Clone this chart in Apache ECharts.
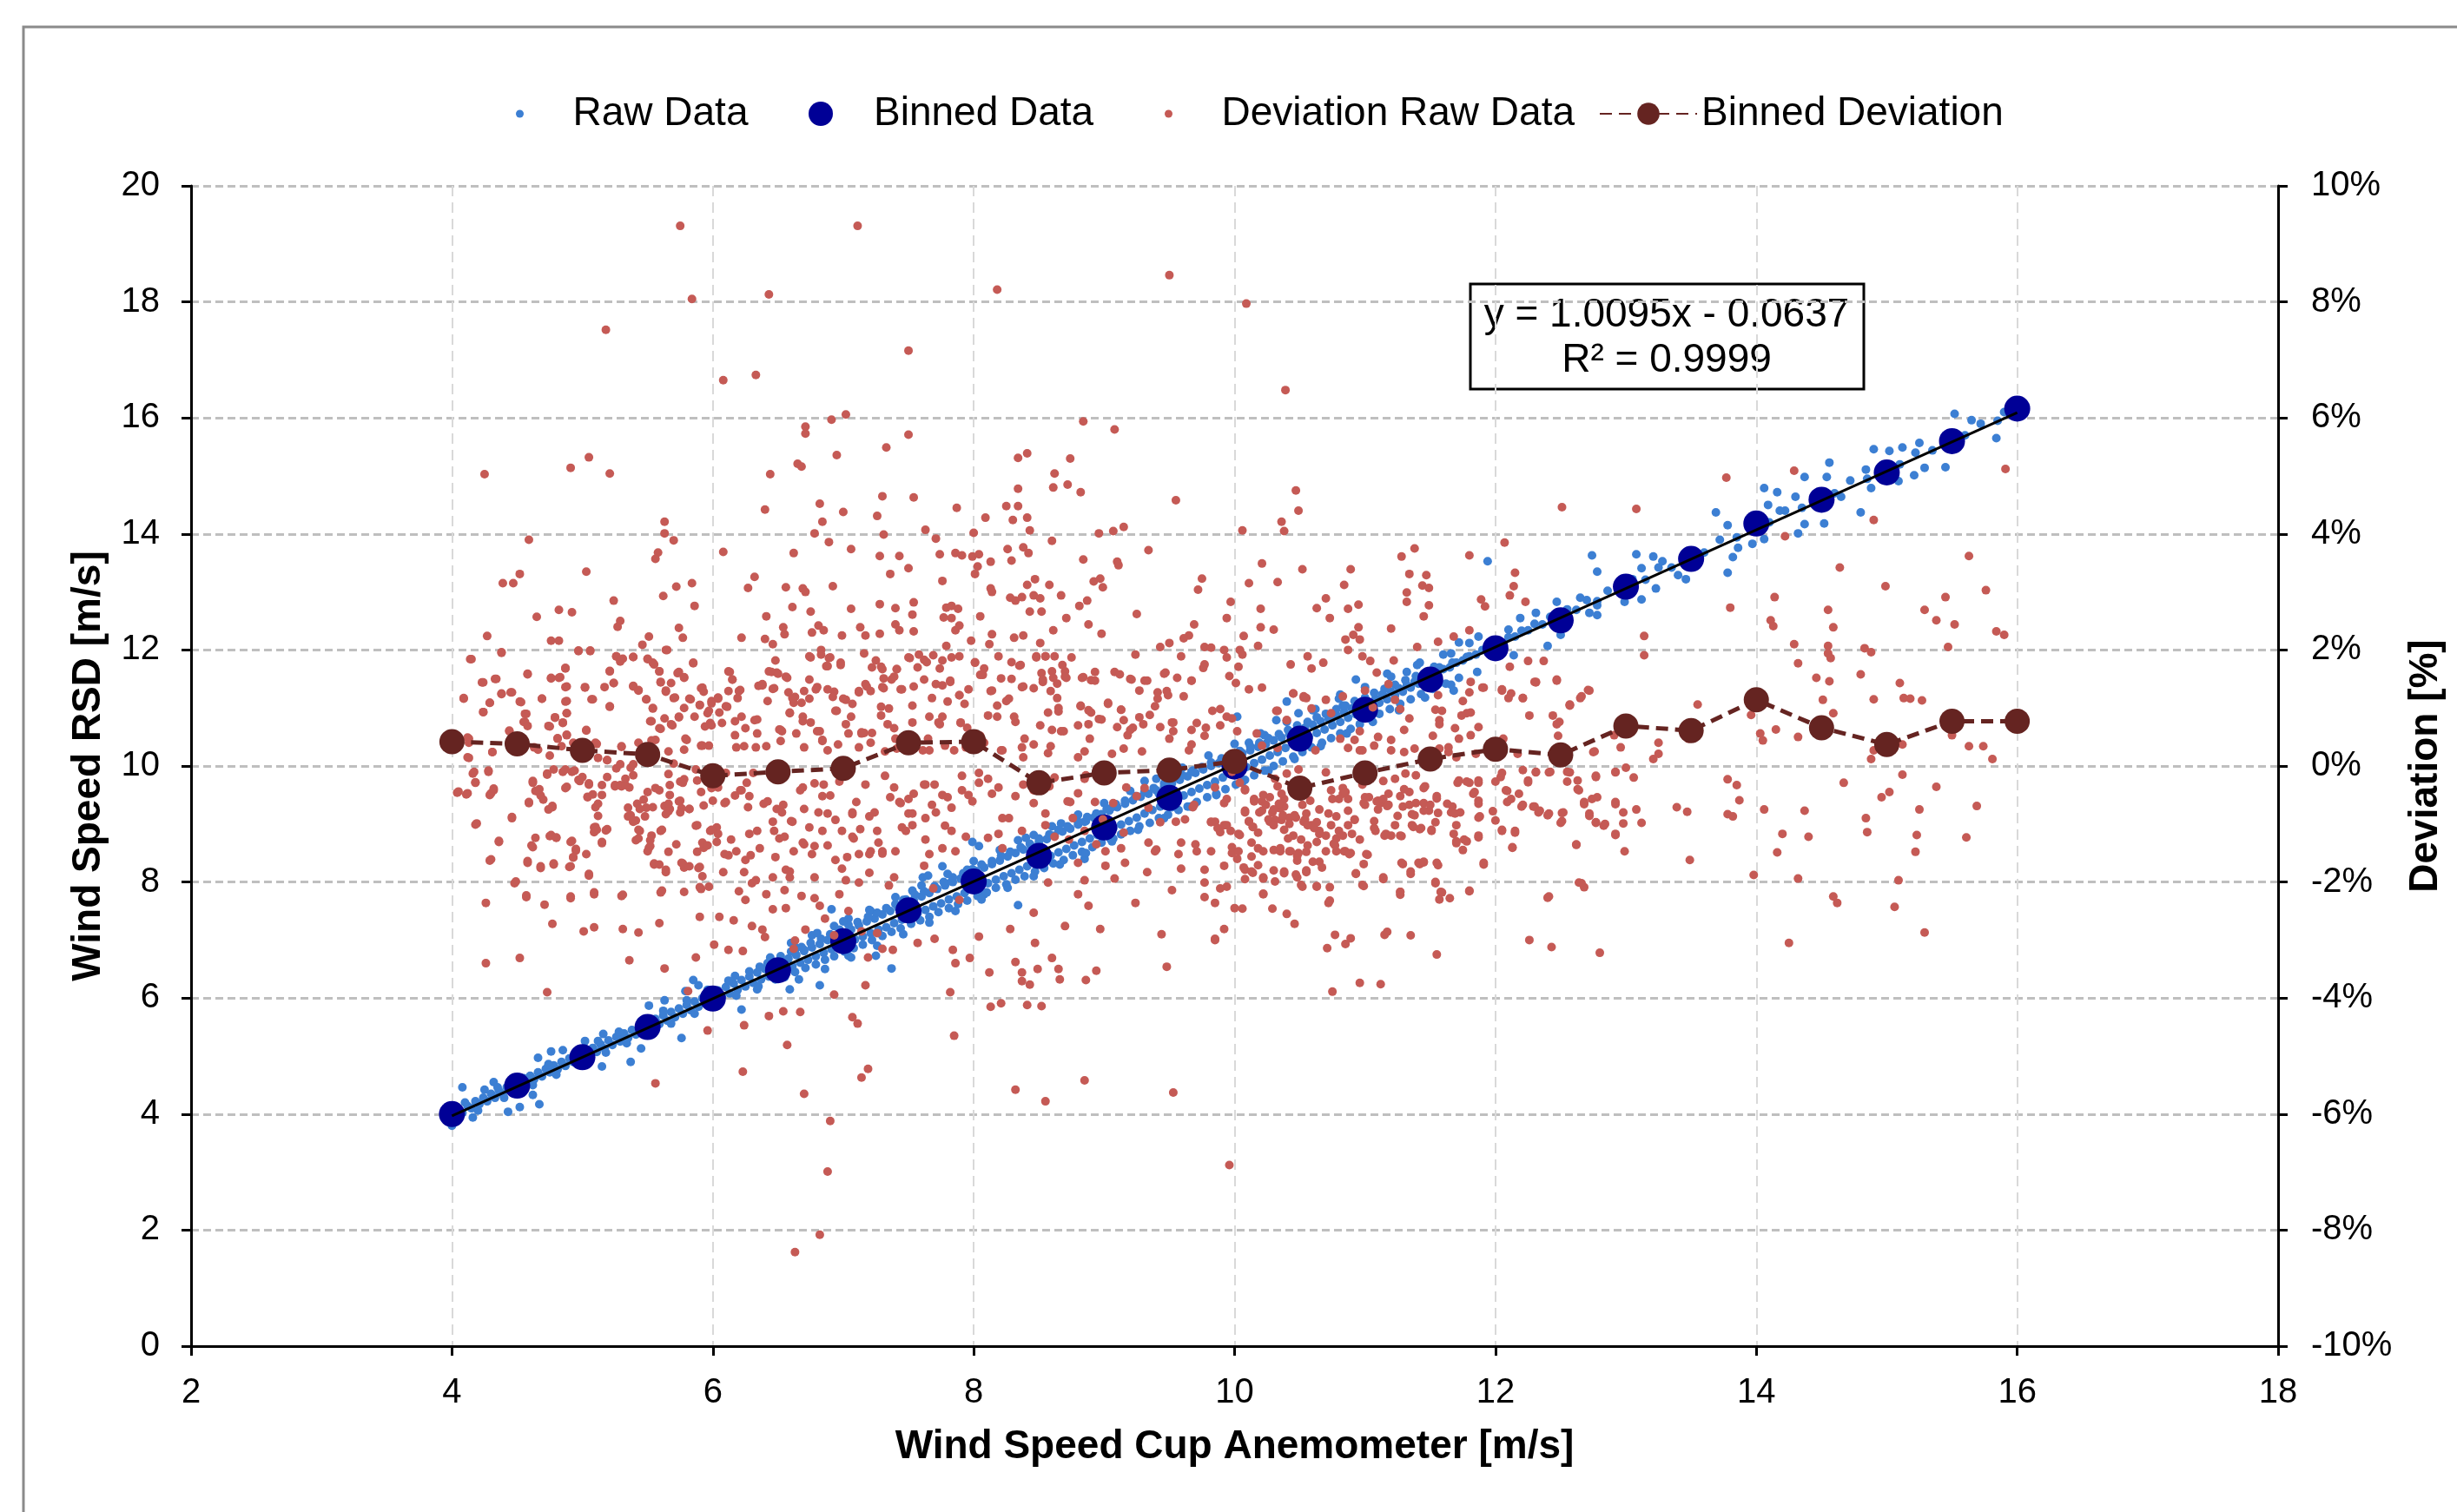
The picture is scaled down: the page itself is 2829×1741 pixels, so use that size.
<!DOCTYPE html>
<html>
  <head>
    <meta charset="utf-8">
    <title>Wind Speed RSD vs Cup Anemometer</title>
    <script src="https://cdn.jsdelivr.net/npm/echarts@6/dist/echarts.min.js"></script>
    <style>
    html, body { margin: 0; padding: 0; background: #fff; }
    #chart { width: 2829px; height: 1741px; }
    </style>
  </head>
  <body>
    <div id="chart"></div>
    <script type="text/javascript">
      var seriesNames = ['Raw Data', 'Binned Data', 'Deviation Raw Data', 'Binned Deviation'];

      // bin centres, cup anemometer [m/s]
      var binCup = [4, 4.5, 5, 5.5, 6, 6.5, 7, 7.5, 8, 8.5, 9, 9.5, 10, 10.5, 11, 11.5, 12, 12.5, 13, 13.5, 14, 14.5, 15, 15.5, 16];
      // binned RSD wind speed [m/s]
      var binRsd = [4.00, 4.49, 4.98, 5.50, 5.99, 6.48, 6.98, 7.51, 8.01, 8.45, 8.94, 9.45, 9.99, 10.47, 10.97, 11.49, 12.03, 12.51, 13.09, 13.57, 14.18, 14.59, 15.06, 15.60, 16.16];
      // binned deviation [%]
      var binDev = [0.42, 0.38, 0.27, 0.20, -0.17, -0.10, -0.04, 0.40, 0.42, -0.29, -0.12, -0.07, 0.08, -0.38, -0.12, 0.12, 0.29, 0.19, 0.69, 0.61, 1.14, 0.66, 0.37, 0.77, 0.77];

      // linear fit y = 1.0095x - 0.0637, drawn over the bin range
      var trendLine = [[4, 3.97], [16, 16.09]];

      // raw 10-min data: [cup, rsd]
      var rawData = [
        [4.02,3.98],[4.05,4.08],[4.08,4.02],[4.12,4.14],[4.15,4.10],[4.18,4.22],[4.21,4.17],[4.24,4.28],[4.27,4.22],[4.30,4.35],
        [4.33,4.28],[4.36,4.40],[4.39,4.34],[4.42,4.46],[4.45,4.41],[4.48,4.52],[4.51,4.47],[4.54,4.58],[4.57,4.54],[4.60,4.66],
        [4.63,4.60],[4.66,4.72],[4.69,4.65],[4.72,4.78],[4.75,4.72],[4.78,4.84],[4.81,4.77],[4.84,4.90],[4.87,4.83],[4.90,4.96],
        [4.93,4.90],[4.96,5.02],[4.99,4.95],[5.02,5.08],[5.05,5.01],[5.08,5.14],[5.11,5.07],[5.14,5.20],[5.17,5.13],[5.20,5.27],
        [5.23,5.19],[5.26,5.33],[5.29,5.25],[5.32,5.39],[5.35,5.31],[5.38,5.45],[5.41,5.37],[5.44,5.51],[5.47,5.43],[5.50,5.58],
        [5.53,5.49],[5.56,5.64],[5.59,5.55],[5.62,5.70],[5.65,5.61],[5.68,5.76],[5.71,5.67],[5.74,5.82],[5.77,5.73],[5.80,5.88],
        [5.83,5.79],[5.86,5.94],[5.89,5.85],[5.92,6.00],[5.95,5.90],[5.98,6.06],[6.01,5.96],[6.04,6.13],[6.07,6.02],[6.10,6.19],
        [6.13,6.08],[6.16,6.25],[6.19,6.14],[6.22,6.31],[6.25,6.20],[6.28,6.37],[6.31,6.26],[6.34,6.44],[6.37,6.32],[6.40,6.50],
        [6.43,6.37],[6.46,6.56],[6.49,6.43],[6.52,6.63],[6.55,6.49],[6.58,6.68],[6.61,6.55],[6.64,6.74],[6.67,6.61],[6.70,6.81],
        [6.73,6.66],[6.76,6.87],[6.79,6.72],[6.82,6.93],[6.85,6.78],[6.88,7.00],[6.91,6.84],[6.94,7.06],[6.97,6.89],[7.00,7.12],
        [7.03,6.95],[7.06,7.18],[7.09,7.01],[7.12,7.25],[7.15,7.06],[7.18,7.32],[7.21,7.12],[7.24,7.37],[7.27,7.18],[7.30,7.44],
        [7.33,7.22],[7.36,7.50],[7.39,7.29],[7.42,7.56],[7.45,7.35],[7.48,7.62],[7.51,7.40],[7.54,7.69],[7.57,7.46],[7.60,7.75],
        [7.63,7.52],[7.66,7.81],[7.69,7.58],[7.72,7.88],[7.75,7.63],[7.78,7.94],[7.81,7.70],[7.84,8.00],[7.87,7.75],[7.90,8.06],
        [7.93,7.81],[7.96,8.13],[7.99,7.87],[8.02,8.19],[8.05,7.92],[8.08,8.25],[8.11,7.98],[8.14,8.31],[8.17,8.04],[8.20,8.37],
        [8.23,8.10],[8.26,8.44],[8.29,8.15],[8.32,8.50],[8.35,8.21],[8.38,8.56],[8.41,8.27],[8.44,8.62],[8.47,8.33],[8.50,8.69],
        [8.53,8.39],[8.56,8.74],[8.59,8.45],[8.62,8.80],[8.65,8.51],[8.68,8.87],[8.71,8.57],[8.74,8.92],[8.77,8.63],[8.80,8.99],
        [8.83,8.69],[8.86,9.05],[8.89,8.75],[8.92,9.11],[8.95,8.81],[8.98,9.17],[9.01,8.87],[9.04,9.23],[9.07,8.93],[9.10,9.29],
        [9.13,8.99],[9.16,9.35],[9.19,9.05],[9.22,9.41],[9.25,9.11],[9.28,9.47],[9.31,9.18],[9.34,9.52],[9.37,9.24],[9.40,9.58],
        [9.43,9.30],[9.46,9.64],[9.49,9.36],[9.52,9.70],[9.55,9.42],[9.58,9.76],[9.61,9.49],[9.64,9.82],[9.67,9.55],[9.70,9.88],
        [9.73,9.61],[9.76,9.94],[9.79,9.67],[9.82,10.00],[9.85,9.73],[9.88,10.05],[9.91,9.80],[9.94,10.11],[9.97,9.86],[10.00,10.16],
        [10.03,9.92],[10.06,10.22],[10.09,9.98],[10.12,10.27],[10.15,10.05],[10.18,10.33],[10.21,10.11],[10.24,10.38],[10.27,10.18],[10.30,10.44],
        [10.33,10.24],[10.36,10.49],[10.39,10.31],[10.42,10.55],[10.45,10.37],[10.48,10.60],[10.51,10.44],[10.54,10.66],[10.57,10.50],[10.60,10.71],
        [10.63,10.57],[10.66,10.77],[10.69,10.63],[10.72,10.82],[10.75,10.70],[10.78,10.88],[10.81,10.76],[10.84,10.93],[10.87,10.83],[10.90,10.99],
        [10.93,10.89],[10.96,11.05],[10.99,10.96],[11.02,11.11],[11.05,11.02],[11.08,11.16],[11.11,11.09],[11.14,11.22],[11.17,11.15],[11.20,11.28],
        [11.23,11.22],[11.26,11.34],[11.29,11.28],[11.32,11.39],[11.35,11.35],[11.38,11.45],[11.41,11.42],[11.44,11.51],[11.47,11.48],[11.50,11.57],
        [11.55,11.58],[11.60,11.67],[11.65,11.70],[11.70,11.78],[11.75,11.82],[11.80,11.89],[11.85,11.92],[11.90,12.00],[11.95,12.03],[12.00,12.10],
        [12.05,12.12],[12.10,12.22],[12.15,12.23],[12.20,12.33],[12.25,12.34],[12.30,12.45],[12.36,12.44],[12.42,12.57],[12.48,12.55],[12.55,12.70],
        [12.62,12.69],[12.70,12.86],[12.78,12.84],[12.86,13.02],[12.95,13.04],[13.05,13.22],[13.15,13.21],[13.25,13.42],[13.35,13.42],[13.48,13.64],
        [13.60,13.68],[13.72,13.90],[13.85,13.94],[13.95,14.12],[14.10,14.20],[14.22,14.40],[14.35,14.45],[14.45,14.64],[14.60,14.70],[14.72,14.92],
        [14.85,14.95],[14.95,15.12],[15.10,15.20],[15.22,15.40],[15.35,15.44],[15.45,15.64],[15.60,15.70],[15.72,15.90],[15.85,15.95],[15.95,16.12],
        [16.02,16.14],
        [4.08,4.46],[4.00,3.80],[4.16,3.94],[4.25,4.42],[4.32,4.55],[4.43,4.04],[4.52,4.12],[4.67,4.17],[4.62,4.33],[4.66,4.97],
        [4.76,5.08],[4.85,5.10],[5.02,5.26],[5.15,4.82],[5.16,5.38],[5.30,5.38],[5.37,4.90],[5.45,5.13],[5.51,5.87],[5.63,5.96],
        [5.76,5.31],[5.79,6.12],[5.85,6.31],[5.89,6.22],[6.17,6.38],[6.22,5.80],[6.34,6.15],[6.36,6.54],[6.44,6.70],[6.59,6.15],
        [6.64,6.86],[6.70,6.83],[6.82,6.22],[6.76,7.08],[6.91,7.53],[6.93,7.24],[7.04,7.37],[7.04,6.73],[7.21,7.50],[7.25,6.73],
        [7.37,6.51],[7.46,7.69],[7.53,7.85],[7.61,8.08],[7.65,8.11],[7.76,8.27],[7.83,8.01],[7.95,8.21],[7.99,8.69],[8.04,8.62],
        [8.34,8.72],[8.08,7.79],[8.34,7.60],[8.46,8.81],[8.67,9.01],[8.85,9.04],[9.06,9.29],[8.85,8.40],[9.31,9.74],[9.42,9.52],
        [9.67,9.90],[9.52,9.29],[9.07,8.75],
        [10.02,10.85],[10.11,10.40],[10.23,10.53],[10.32,10.79],[10.40,11.11],[10.49,10.91],[10.62,10.98],[10.74,10.79],[10.83,11.04],[10.81,11.23],
        [10.93,11.49],[11.13,11.23],[11.17,11.59],[11.32,11.62],[11.42,11.78],[11.57,11.43],[11.68,11.30],[11.53,11.71],[11.66,11.94],[11.72,12.13],
        [11.87,12.23],[11.94,13.53],[12.14,11.91],[12.10,12.35],[12.19,12.55],[12.31,12.64],[12.40,12.07],[12.50,12.26],[12.47,12.83],[12.72,12.64],
        [12.78,12.60],[12.65,12.90],[12.78,12.77],[12.99,12.83],[13.12,12.87],[13.23,13.06],[13.12,13.41],[12.78,13.35],[12.74,13.63],[13.54,13.54],
        [13.46,13.22],[13.40,13.29],[13.28,13.53],[13.08,13.65],[13.21,13.61],[13.78,13.33],[13.82,13.60],[13.86,13.76],[13.78,14.15],[13.69,14.37],
        [13.97,13.83],[14.32,14.01],[14.06,13.91],[14.18,14.40],[14.09,14.50],[14.30,14.64],[14.06,14.79],[14.16,14.72],[14.52,14.18],[14.37,14.17],
        [14.37,14.98],[14.65,14.64],[14.54,14.98],[14.56,15.23],[14.80,14.37],[14.88,14.79],[14.84,15.11],[15.09,14.91],[15.45,15.15],[15.21,15.01],
        [15.29,15.14],[15.25,15.57],[15.12,15.49],[15.02,15.43],[14.90,15.46],[15.90,16.10],[15.84,15.65],[15.65,15.96],[15.52,16.07]
      ];

      // raw data, outer edges of the dense band: [cup, rsd]
      var rawBand = [
        [4.10,4.20],[4.20,4.06],[4.35,4.46],[4.40,4.28],[4.55,4.62],[4.62,4.50],[4.74,4.86],[4.80,4.68],[4.95,5.07],[5.00,4.88],
        [5.12,5.26],[5.18,5.06],[5.28,5.42],[5.34,5.22],[5.45,5.60],[5.52,5.40],[5.62,5.78],[5.68,5.56],[5.80,5.96],[5.86,5.73],
        [5.96,6.14],[6.03,5.88],[6.12,6.30],[6.18,6.04],[6.28,6.46],[6.35,6.20],[6.42,6.60],[6.48,6.32],
        [6.52,6.72],[6.55,6.36],[6.60,6.80],[6.63,6.45],[6.68,6.88],[6.71,6.52],[6.75,6.95],[6.79,6.58],[6.83,7.02],[6.86,6.66],
        [6.90,7.10],[6.93,6.72],[6.97,7.18],[7.01,6.80],[7.04,7.26],[7.08,6.86],[7.11,7.31],[7.15,6.92],[7.19,7.40],[7.22,7.00],
        [7.26,7.47],[7.30,7.07],[7.33,7.55],[7.37,7.14],[7.40,7.62],[7.44,7.20],[7.48,7.70],[7.52,7.28],[7.55,7.78],[7.59,7.34],
        [7.62,7.84],[7.66,7.40],[7.70,7.93],[7.73,7.48],[7.77,8.00],[7.81,7.55],[7.84,8.08],[7.88,7.62],[7.92,8.15],[7.95,7.68],
        [7.99,8.22],[8.03,7.76],[8.06,8.30],[8.10,7.82],[8.14,8.36],[8.17,7.90],[8.21,8.45],[8.25,7.96],[8.28,8.52],[8.32,8.04],
        [8.36,8.60],[8.39,8.10],[8.43,8.66],[8.47,8.18],[8.50,8.75],[8.54,8.24],[8.58,8.82],[8.61,8.32],[8.65,8.90],[8.69,8.38],
        [8.72,8.96],[8.76,8.46],[8.80,9.04],[8.83,8.52],[8.87,9.12],[8.91,8.60],[8.94,9.18],[8.98,8.68],[9.02,9.26],[9.05,8.74],
        [9.09,9.34],[9.13,8.82],[9.16,9.40],[9.20,8.88],[9.24,9.48],[9.27,8.96],[9.31,9.56],[9.35,9.02],[9.38,9.62],[9.42,9.10],
        [9.46,9.70],[9.49,9.16],[9.53,9.78],[9.57,9.24],[9.60,9.84],[9.64,9.30],[9.68,9.92],[9.71,9.38],[9.75,9.98],[9.79,9.46],
        [9.82,10.06],[9.86,9.52],[9.90,10.13],[9.93,9.60],[9.97,10.20],[10.01,9.68],[10.04,10.26],[10.08,9.76],[10.12,10.34],[10.15,9.84],
        [10.19,10.40],[10.23,9.92],[10.26,10.48],[10.30,10.00],[10.34,10.55],[10.37,10.08],[10.41,10.62],[10.45,10.16],[10.48,10.70],[10.52,10.24],
        [10.56,10.76],[10.59,10.32],[10.63,10.84],[10.67,10.40],[10.70,10.90],[10.74,10.48],[10.78,10.98],[10.81,10.56],[10.85,11.04],[10.89,10.64],
        [10.92,11.12],[10.96,10.72],[11.00,11.18],[11.03,10.82],[11.07,11.26],[11.11,10.90],[11.15,11.33],[11.19,10.98],[11.23,11.40],[11.27,11.07],
        [11.31,11.48],[11.35,11.15],[11.39,11.55],[11.43,11.24],[11.47,11.62],[11.52,11.33],[11.57,11.70],[11.62,11.42],[11.67,11.78],[11.72,11.52],
        [11.78,11.88],
        [6.60,6.95],[6.66,6.32],[6.80,7.12],[6.86,6.50],[7.00,7.32],[7.06,6.70],[7.20,7.52],[7.26,6.90],[7.40,7.74],[7.46,7.10],
        [7.60,7.94],[7.66,7.30],[7.80,8.14],[7.86,7.50],[8.00,8.36],[8.06,7.70],[8.20,8.55],[8.26,7.90],[8.40,8.76],[8.46,8.10],
        [8.60,8.96],[8.66,8.30],[8.80,9.16],[8.86,8.50],[9.00,9.36],[9.06,8.70],[9.20,9.57],[9.26,8.90],[9.40,9.78],[9.46,9.10],
        [9.60,9.97],[9.66,9.30],[9.80,10.18],[9.86,9.50],[10.00,10.38],[10.06,9.72],[10.20,10.56],[10.26,9.92],[10.40,10.76],[10.46,10.12],
        [10.60,10.96],[10.66,10.34],[10.80,11.16],[10.86,10.56],[11.00,11.36],[11.06,10.76],[11.20,11.54],[11.26,10.96],[11.40,11.74],[11.46,11.18],
        [11.60,11.92],[11.66,11.40],[11.80,12.12],[11.86,11.62]
      ];

      // raw deviation (RSD - cup) / cup: [cup, %]
      var devRaw = [
        [5.75,9.31],[7.11,9.31],[5.84,8.05],[6.43,8.13],[5.18,7.52],[8.18,8.21],[9.50,8.46],[7.50,7.16],[6.08,6.65],[6.33,6.74],
        [6.91,5.97],[7.02,6.06],[6.71,5.85],[6.71,5.73],[7.50,5.71],[8.84,5.94],[9.08,5.80],[7.33,5.49],[6.95,5.36],[8.34,5.31],
        [8.41,5.39],[8.74,5.30],[4.25,5.03],[4.91,5.14],[5.05,5.32],[5.21,5.04],[6.65,5.21],[6.68,5.16],[6.44,5.03],[8.62,5.04],
        [8.61,4.80],[8.72,4.85],[8.34,4.78],[8.82,4.72],[9.55,4.58],[7.30,4.65],[7.54,4.63],[6.82,4.52],[6.40,4.42],[7.00,4.38],
        [7.87,4.45],[8.25,4.48],[8.34,4.48],[8.09,4.28],[8.30,4.24],[8.41,4.28],[5.63,4.21],[7.26,4.31],[6.84,4.21],[8.43,4.06],
        [7.63,4.07],[8.00,4.02],[9.15,4.12],[9.07,4.05],[8.96,4.01],[5.63,4.01],[6.78,4.01],[7.31,3.99],[4.59,3.90],[5.70,3.89],
        [7.71,3.92],[8.60,3.88],[6.89,3.86],[7.06,3.74],[8.26,3.74],[8.38,3.77],[9.34,3.72],[5.58,3.68],[5.56,3.57],[6.08,3.69],
        [6.62,3.67],[7.28,3.62],[7.43,3.62],[7.74,3.65],[7.86,3.67],[7.91,3.63],[7.99,3.61],[8.04,3.65],[8.42,3.67],[8.84,3.56],
        [8.13,3.52],[8.29,3.54],[9.10,3.52],[9.11,3.46],[7.50,3.41],[8.03,3.44],[8.01,3.31],[7.36,3.31],[4.39,3.15],[4.47,3.15],
        [4.52,3.31],[5.03,3.35],[5.84,3.15],[5.72,3.09],[6.32,3.26],[6.27,3.07],[6.56,3.08],[6.69,3.06],[6.71,3.00],[6.92,3.10],
        [7.76,3.19],[8.47,3.22],[8.41,3.12],[8.58,3.12],[8.13,3.06],[8.14,3.00],[8.97,3.23],[8.92,3.18],[8.99,3.08],[9.75,3.23],
        [9.72,3.04],[5.62,2.93],[5.86,2.76],[5.24,2.85],[4.82,2.69],[4.92,2.65],[4.65,2.57],[5.29,2.50],[5.27,2.40],[5.74,2.38],
        [5.77,2.21],[4.27,2.24],[4.76,2.16],[4.82,2.16],[6.41,2.58],[6.61,2.74],[6.75,2.66],[7.06,2.71],[7.28,2.79],[7.40,2.72],
        [7.54,2.82],[7.53,2.61],[7.79,2.73],[7.83,2.76],[7.88,2.71],[7.77,2.56],[7.83,2.55],[8.05,2.58],[8.28,2.90],[8.37,2.91],
        [8.46,2.94],[8.51,2.89],[8.32,2.85],[8.43,2.66],[8.52,2.66],[8.67,2.94],[8.81,2.76],[8.87,2.85],[8.71,2.55],[8.88,2.44],
        [9.25,2.62],[9.69,2.44],[9.65,2.25],[5.51,2.23],[6.54,2.39],[6.55,2.27],[6.22,2.21],[6.40,2.19],[6.46,2.10],[6.81,2.42],
        [6.76,2.30],[6.85,2.34],[6.99,2.25],[7.13,2.39],[7.17,2.25],[7.28,2.28],[7.40,2.44],[7.43,2.34],[7.54,2.32],[7.86,2.34],
        [7.89,2.42],[7.98,2.16],[8.12,2.10],[8.14,2.27],[8.31,2.21],[8.38,2.25],[8.61,2.34],[8.98,2.28],[9.50,2.12],[9.61,2.20],
        [9.77,2.05],[9.43,2.05],[8.51,2.12],
        [4.14,1.84],[4.38,1.96],[4.23,1.44],[4.33,1.50],[4.09,1.16],[4.29,1.09],[4.24,0.93],[4.38,1.25],[4.45,1.27],[4.52,1.11],
        [4.56,0.90],[4.58,1.58],[4.69,1.16],[4.76,1.52],[4.82,1.52],[4.87,1.68],[4.87,1.36],[4.87,1.11],[4.88,0.91],[4.85,0.74],
        [4.79,0.84],[4.97,1.98],[5.06,1.98],[5.02,1.35],[5.07,1.15],[5.03,0.61],[5.17,1.36],[5.21,1.02],[5.21,1.63],[5.24,1.43],
        [5.26,1.89],[5.31,1.85],[5.39,1.88],[5.39,1.38],[5.43,1.31],[5.49,1.15],[5.50,1.84],[5.54,1.78],[5.54,0.99],[5.52,0.77],
        [5.59,1.63],[5.60,1.44],[5.64,1.28],[5.59,0.65],[5.64,2.00],[5.70,1.17],[5.74,1.62],[5.78,1.52],[5.85,1.77],[5.78,1.00],
        [5.82,1.16],[5.91,1.34],[5.90,1.05],[5.96,0.91],[5.99,1.12],[5.98,0.74],[6.04,1.16],[6.10,1.03],[6.12,1.63],[6.15,1.49],
        [6.12,1.29],[6.21,1.31],[6.19,1.17],[6.22,0.85],[6.32,0.79],[6.35,1.38],[6.38,1.41],[6.43,1.63],[6.49,1.61],[6.48,1.82],
        [6.46,1.33],[6.56,1.54],[6.58,1.27],[6.62,1.09],[6.59,0.91],[6.53,0.60],[6.63,1.19],[6.70,1.29],[6.74,1.16],[6.80,1.36],
        [6.75,1.87],[6.83,2.00],[6.89,1.86],[6.87,1.72],[6.93,1.28],[6.98,1.78],[7.00,1.16],[6.95,0.95],[7.07,1.07],[7.12,1.29],
        [7.17,1.41],[7.21,1.29],[7.14,0.58],[7.22,1.70],[7.29,1.71],[7.31,1.51],[7.30,1.36],[7.37,1.49],[7.41,1.67],[7.44,1.32],
        [7.29,1.02],[7.35,0.99],[7.53,1.04],[7.51,1.86],[7.57,1.70],[7.62,1.83],[7.71,1.41],[7.74,1.68],[7.69,1.91],[7.79,2.07],
        [7.82,1.45],[7.80,1.11],[7.89,1.22],[7.93,1.07],[7.90,0.74],[7.76,0.85],[8.01,1.78],[8.08,1.68],[8.07,1.57],[8.14,1.30],
        [8.21,1.51],[8.18,0.85],[8.27,1.16],[8.29,1.50],[8.37,1.36],[8.32,0.76],[8.35,1.73],[8.48,1.89],[8.55,1.89],[8.52,1.60],
        [8.53,1.45],[8.60,1.63],[8.61,1.52],[8.59,1.29],[8.64,1.17],[8.70,1.63],[8.71,1.52],[8.65,0.94],[8.82,1.03],[8.84,1.53],
        [8.90,1.48],[8.88,0.96],[8.96,0.81],[9.03,1.09],[9.08,1.62],[9.12,1.58],[9.20,1.50],[9.13,0.97],[9.15,0.79],[9.22,0.66],
        [9.27,1.30],[9.33,1.47],[9.27,0.84],[9.39,1.03],[9.41,1.16],[9.47,1.61],[9.48,1.29],[9.52,0.75],[9.53,0.60],[9.56,1.52],
        [9.61,1.20],[9.67,1.47],[9.71,0.74],[9.77,1.75],[9.82,2.04],
        [4.13,0.47],[4.12,0.15],[4.31,0.24],[4.44,0.60],[4.55,0.76],[4.66,0.28],[4.74,0.69],[4.81,0.47],[4.88,0.54],[4.93,0.40],
        [5.10,0.40],[5.19,0.10],[5.30,0.33],[5.43,0.40],[5.53,0.44],[5.68,0.72],[5.74,0.85],[5.79,0.47],[5.91,0.35],[5.98,0.72],
        [6.07,0.74],[6.17,0.53],[6.24,0.34],[6.34,0.56],[6.41,0.34],[6.51,0.63],[6.52,0.43],[6.64,0.56],[6.69,0.85],[6.80,0.60],
        [6.84,0.43],[6.88,0.27],[7.04,0.56],[7.14,0.56],[7.21,0.40],[7.34,0.72],[7.40,0.47],[7.48,0.34],[7.61,0.27],[7.65,0.47],
        [7.74,0.72],[7.85,0.27],[7.95,0.66],[8.08,0.40],[8.21,0.27],[8.38,0.15],[8.46,0.37],[8.59,0.34],[8.67,0.60],[8.80,0.15],
        [8.89,0.47],[9.06,0.21],[9.18,0.53],[9.35,0.88],[9.50,0.47],[9.65,0.27],[9.78,0.66],
        [4.04,-0.46],[4.11,-0.49],[4.16,-0.13],[4.18,-0.29],[4.28,-0.10],[4.32,-0.42],[4.29,-0.50],[4.18,-1.01],[4.29,-1.63],[4.36,-1.31],
        [4.46,-0.90],[4.48,-2.02],[4.59,-0.64],[4.62,-0.29],[4.66,-0.44],[4.68,-0.51],[4.73,-0.13],[4.77,-0.71],[4.75,-1.21],[4.80,-1.24],
        [4.62,-1.40],[4.58,-1.67],[4.68,-1.76],[4.78,-1.70],[4.85,-0.10],[4.92,-0.10],[4.87,-0.38],[4.98,-0.26],[5.05,-0.32],[5.04,-0.54],
        [5.10,-0.71],[5.09,-1.06],[5.09,-1.14],[5.15,-1.33],[5.18,-1.11],[4.91,-1.31],[4.95,-1.46],[4.93,-1.58],[4.90,-1.74],[5.05,-1.89],
        [5.19,-0.19],[5.25,-0.35],[5.30,-0.35],[5.36,-0.37],[5.39,-0.16],[5.42,-0.65],[5.35,-0.87],[5.39,-0.96],[5.41,-1.28],[5.44,-1.12],
        [5.48,-0.87],[5.52,-1.28],[5.51,-1.41],[5.54,-0.71],[5.55,-1.70],[5.60,-1.12],[5.64,-1.83],[5.59,-0.42],[5.67,-0.74],[5.74,-0.61],
        [5.76,-1.67],[5.77,-0.29],[5.78,-1.75],[5.82,-0.74],[5.87,-1.03],[5.89,-1.76],[5.93,-1.41],[5.98,-1.12],[6.03,-1.06],[6.03,-1.31],
        [6.09,-0.64],[6.12,-1.54],[6.08,-1.83],[6.17,-0.51],[6.21,-0.42],[6.26,-0.29],[6.27,-0.71],[6.29,-1.54],[6.34,-1.12],[6.24,-1.83],
        [6.30,-2.02],[6.42,-0.61],[6.46,-0.96],[6.49,-0.74],[6.53,-0.80],[6.51,-1.25],[6.48,-1.57],[6.56,-1.79],[6.59,-1.92],[6.61,-0.96],
        [6.67,-0.42],[6.70,-0.74],[6.74,-1.06],[6.70,-1.35],[6.78,-1.38],[6.81,-0.80],[6.85,-0.32],[6.90,-0.51],[6.94,-0.93],[6.99,-1.12],
        [7.03,-1.57],[7.07,-0.83],[7.08,-1.25],[7.13,-1.09],[7.20,-0.87],[7.21,-1.47],[7.26,-1.12],[7.30,-1.51],[7.36,-0.54],[7.44,-0.64],
        [7.45,-1.06],[7.50,-0.82],[7.54,-0.48],[7.63,-0.32],[7.63,-0.90],[7.71,-0.80],[7.78,-1.03],[7.70,-0.32],[7.80,-0.54],[7.91,-0.42],
        [7.99,-0.61],[8.04,-0.29],[8.14,-0.48],[8.27,-0.90],[8.37,-1.12],[8.46,-0.64],[8.58,-0.35],[8.72,-0.61],[8.86,-0.16],[8.76,-0.90],
        [8.94,-1.35],[9.07,-0.64],[9.15,-1.15],[9.31,-0.38],[9.40,-1.44],[9.55,-0.96],[9.68,-0.71],[9.70,-1.35],[9.82,-0.96],[9.77,-1.79],
        [4.26,-2.36],[4.26,-3.40],[4.52,-3.31],[4.57,-2.26],[4.71,-2.39],[4.73,-3.90],[4.77,-2.72],[4.91,-2.28],[5.01,-2.85],[5.09,-2.78],
        [5.09,-2.21],[5.30,-2.24],[5.31,-2.81],[5.43,-2.87],[5.36,-3.35],[5.59,-2.71],[5.63,-3.49],[5.60,-2.18],[5.81,-3.88],[5.90,-2.60],
        [5.91,-2.12],[5.87,-3.30],[6.01,-3.08],[6.05,-2.60],[6.12,-3.17],[6.16,-2.66],[6.23,-3.19],[6.30,-2.76],[6.38,-2.82],[6.40,-2.95],
        [6.46,-2.47],[6.56,-2.45],[6.62,-3.15],[6.63,-3.01],[6.71,-2.82],[6.78,-2.28],[6.86,-2.63],[6.93,-2.92],[7.04,-2.50],[7.14,-2.85],
        [7.19,-3.30],[7.26,-2.88],[7.38,-3.17],[7.30,-3.15],[7.57,-3.05],[7.70,-2.98],[7.84,-3.17],[7.86,-3.40],[7.97,-3.31],[8.04,-2.94],
        [8.12,-3.56],[8.32,-3.38],[8.37,-3.56],[8.37,-3.71],[8.43,-3.77],[8.49,-3.50],[8.47,-3.05],[8.65,-3.50],[8.60,-3.31],[8.66,-3.68],
        [8.86,-3.69],[8.94,-3.53],[8.70,-2.76],[8.46,-2.53],[8.28,-2.81],[8.97,-2.81],[9.44,-2.90],[9.48,-3.46],[9.33,-1.83],[9.85,-3.00],
        [5.96,-4.56],[6.24,-4.47],[6.43,-4.31],[6.54,-4.23],[6.67,-4.24],[6.57,-4.81],[6.93,-3.94],[7.17,-3.78],[7.07,-4.33],[7.11,-4.44],
        [7.82,-3.90],[8.13,-4.15],[8.21,-4.09],[8.41,-4.12],[8.52,-4.14],[7.85,-4.65],[5.56,-5.47],[6.23,-5.27],[6.70,-5.65],[7.19,-5.22],
        [7.14,-5.37],[8.32,-5.58],[8.55,-5.78],[8.85,-5.42],[9.53,-5.63],[6.90,-6.12],[6.88,-6.99],[6.82,-8.08],[6.63,-8.38],
        [10.09,7.97],[10.39,6.48],[10.47,4.75],[10.49,4.40],[10.36,4.21],[10.38,4.05],[10.06,4.06],[13.77,4.97],[12.51,4.46],[13.08,4.43],
        [14.29,5.09],[15.91,5.12],[14.90,4.24],[14.22,3.96],[12.07,3.85],[11.38,3.75],[11.28,3.61],[11.80,3.63],[15.63,3.62],[10.21,3.49],
        [10.52,3.39],[10.89,3.39],[11.34,3.31],[11.47,3.29],[12.15,3.33],[14.64,3.42],[10.11,3.15],[10.33,3.17],[10.84,3.12],[11.44,3.11],
        [11.49,3.07],[12.14,3.10],[14.99,3.10],[15.76,3.03],[11.32,2.99],[12.11,2.94],[10.70,2.89],[14.14,2.91],[15.45,2.91],[9.97,2.83],
        [11.89,2.87],[12.23,2.83],[10.20,2.71],[10.63,2.72],[10.87,2.71],[10.95,2.78],[11.32,2.83],[11.49,2.77],[11.92,2.75],[14.55,2.69],
        [15.29,2.69],[13.80,2.73],[9.94,2.55],[10.73,2.55],[11.45,2.58],[14.11,2.51],[15.38,2.51],[15.52,2.44],[14.59,2.39],[14.13,2.41],
        [10.20,2.39],[10.30,2.35],[10.95,2.39],[11.20,2.37],[11.80,2.34],[15.84,2.32],[15.90,2.26],[13.14,2.24],[10.07,2.24],[10.85,2.18],
        [10.91,2.26],[10.96,2.18],[11.56,2.14],[11.68,2.23],[14.29,2.10],[14.55,2.07],[14.83,2.03],[15.47,2.05],[10.18,2.07],[10.87,2.00],
        [11.40,2.05],[9.92,2.00],[10.04,2.00],[13.14,1.91],[14.55,1.94],[14.88,1.96],[14.57,1.86],[9.94,1.87],[10.06,1.92],[10.43,1.75],
        [10.56,1.89],[10.68,1.78],[10.98,1.89],[11.04,1.81],[11.22,1.82],[11.09,1.61],[10.59,1.68],[10.03,1.71],[14.32,1.77],[12.37,1.81],
        [12.25,1.81],[12.11,1.71],[14.80,1.58],[14.46,1.52],[14.56,1.46],[15.10,1.43],[9.96,1.55],[10.01,1.43],[10.11,1.32],[10.21,1.35],
        [10.45,1.25],[10.53,1.18],[10.70,1.14],[10.83,1.20],[11.00,1.30],[11.18,1.41],[11.23,1.14],[11.56,1.22],[11.80,1.27],[11.91,1.35],
        [12.05,1.30],[12.10,1.17],[12.21,1.17],[12.31,1.44],[12.47,1.49],[12.65,1.17],[12.71,1.31],[12.57,1.06],[14.51,1.14],[14.90,1.15],
        [15.13,1.17],[15.18,1.16],[15.27,1.13],[13.55,1.06],[14.59,0.91],[14.32,0.50],[14.15,0.63],[14.03,0.56],[14.05,0.44],[13.96,0.88],
        [13.25,0.40],[13.25,0.21],[13.21,0.12],[12.75,0.24],[12.91,0.53],[12.49,0.76],[12.57,1.04],[12.48,0.52],[15.50,0.53],[15.63,0.34],
        [15.74,0.34],[15.81,0.12],[15.12,0.37],[14.90,0.27],[14.88,0.12],[13.45,0.54],[13.48,0.47],
        [9.89,0.98],[9.98,0.82],[10.02,0.60],[10.17,0.56],[10.32,0.95],[10.40,0.79],[10.55,1.17],[10.59,0.99],[10.74,0.91],[10.81,0.47],
        [10.96,0.60],[11.06,1.01],[11.10,0.50],[11.27,0.98],[11.34,0.82],[11.57,0.79],[11.59,0.95],[11.69,0.65],[11.78,0.91],[11.81,0.53],
        [12.00,0.27],[12.06,0.47],[12.17,0.21],[10.33,0.31],[10.62,0.27],[10.87,0.31],[10.98,0.27],[11.30,0.24],[11.64,0.24],[11.85,0.21],
        [9.96,-6.88],[10.75,-3.89],[10.96,-3.74],[11.12,-3.76],[10.71,-3.14],[10.77,-2.91],[10.85,-3.07],[10.89,-2.97],[11.15,-2.91],[11.17,-2.86],
        [11.35,-2.92],[11.55,-3.25],[12.26,-3.00],[12.43,-3.12],[12.80,-3.22],[14.25,-3.05],[15.29,-2.87],[15.06,-2.43],[14.59,-2.25],[14.62,-2.36],
        [15.09,-1.97],[14.32,-1.94],[13.98,-1.88],[12.40,-2.27],[12.64,-2.01],[12.68,-2.09],[11.80,-2.16],[11.59,-2.18],[11.57,-2.30],[11.65,-2.28],
        [11.54,-2.02],[11.27,-2.17],[11.27,-2.22],[10.73,-2.09],[10.72,-2.36],[10.46,-2.72],[10.40,-2.55],[10.29,-2.46],[10.22,-2.21],[10.06,-2.46],
        [10.00,-2.45],[9.92,-2.81],[9.85,-2.98],[9.85,-2.36],[10.99,-2.07],[11.14,-1.95],[10.63,-2.08],[10.52,-2.08],[10.31,-1.99],[10.08,-1.95],
        [9.94,-2.08],[9.92,-1.72],[10.04,-1.19],[10.08,-1.79],[10.14,-1.84],[10.22,-1.94],[10.38,-1.85],[10.48,-1.92],[10.55,-1.83],[10.93,-1.86],
        [10.99,-1.69],[11.02,-1.53],[11.35,-1.86],[11.29,-1.69],[11.42,-1.69],[11.56,-1.71],[11.45,-1.66],[11.91,-1.70],[12.13,-1.41],[12.62,-1.36],
        [12.99,-1.47],[13.49,-1.62],[14.16,-1.49],[14.40,-1.22],[14.20,-1.17],[15.22,-1.48],[15.23,-1.19],[15.61,-1.23],[14.85,-1.14],[14.84,-0.90],
        [14.37,-0.77],[14.06,-0.75],[13.78,-0.83],[13.82,-0.87],[13.39,-0.71],[13.47,-0.79],[13.87,-0.59],[13.78,-0.23],[13.85,-0.33],[14.67,-0.29],
        [14.96,-0.54],[15.02,-0.45],[15.12,-0.15],[15.38,-0.36],[15.25,-0.75],[15.69,-0.69],[13.08,-0.75],[13.12,-0.98],[12.98,-0.99],[12.92,-1.19],
        [12.83,-1.03],[12.77,-0.98],[12.72,-0.86],[12.68,-0.66],[12.74,-0.57],[12.78,-0.54],[12.92,-0.66],[12.77,-0.19],[12.92,-0.11],[13.06,-0.20],
        [13.00,-0.03],[12.63,-0.25],[12.64,-0.42],[12.55,-0.27],[12.57,-0.11],[12.41,-0.11],[12.31,-0.11],[12.25,-0.28],[12.18,-0.48],[12.20,-0.70],
        [12.29,-0.70],[12.33,-0.80],[12.40,-0.85],[12.50,-0.98],[12.51,-0.81],[12.15,-1.15],[12.05,-1.12],[12.00,-0.94],[11.98,-0.78],[12.00,-0.27],
        [12.04,-0.19],[12.09,-0.43],[12.09,-0.62],[11.87,-1.23],[11.75,-1.45],[11.78,-1.30],[11.70,-1.33],[11.73,-0.80],[11.70,-1.02],[11.67,-0.70],
        [11.80,-0.29],[11.87,-0.29],[11.83,-0.48],[11.87,-0.65],[11.87,-0.89],[11.71,-0.29],[11.56,-0.81],[11.49,-0.77],[11.51,-1.12],[11.55,-0.56],
        [11.45,-0.38],[11.45,-0.64],[11.39,-0.64],[11.36,-0.83],[11.37,-1.05],[11.42,-1.09],[11.34,-0.45],[11.29,-0.70],[11.28,-1.21],[11.25,-0.86],
        [11.20,-1.20],[11.15,-1.20],[11.08,-1.12],[11.07,-0.95],[11.10,-0.75],[11.09,-0.61],[11.12,-0.64],[11.17,-0.69],[11.18,-0.48],[11.23,-0.22],
        [11.39,-0.16],[11.31,-0.13],[11.14,-0.26],[11.03,-0.54],[10.99,-0.64],[10.92,-0.93],[10.87,-1.02],[10.89,-1.50],[10.84,-1.47],[10.78,-1.47],
        [10.78,-1.25],[10.76,-1.34],[10.70,-1.20],[10.65,-1.12],[10.63,-1.31],[10.55,-1.48],[10.49,-1.50],[10.53,-0.96],[10.59,-1.02],[10.55,-0.82],
        [10.42,-0.89],[10.47,-0.89],[10.36,-0.93],[10.31,-0.93],[10.27,-0.96],[10.35,-0.73],[10.38,-0.70],[10.29,-0.80],[10.19,-0.80],[10.11,-0.96],
        [10.18,-1.15],[10.14,-1.05],[10.22,-1.47],[10.35,-1.47],[10.42,-1.47],[10.48,-1.63],[10.18,-1.71],[10.13,-1.56],[10.02,-1.60],[9.98,-1.50],
        [9.98,-1.40],[9.92,-1.02],[9.89,-1.14],[10.08,-0.80],[10.21,-0.61],[10.27,-0.54],[10.38,-0.57],[10.36,-0.48],[10.33,-0.35],[10.31,-0.22],
        [10.40,-0.13],[10.49,-0.06],[10.70,-0.11],[10.74,-0.42],[10.83,-0.38],[10.83,-0.48],[10.87,-0.57],[10.80,-0.57],[10.98,-0.32],[11.00,-0.54],
        [10.15,-0.61],[10.08,-0.42],[10.04,-0.29],[9.98,-0.10],[9.94,-0.57],[9.92,-0.64],[9.85,-0.96],[9.89,-2.11]
      ];

      // raw deviation read from close-ups of the dense cloud (cup 6-13): [cup, %]
      var devDense = [
        [6.74,1.89],[6.83,1.92],[6.90,1.87],[7.16,1.94],[7.25,1.82],[7.30,1.67],[7.41,1.67],[7.50,1.87],[7.58,1.92],[7.64,1.79],
        [7.76,1.82],[7.83,1.87],[7.89,1.89],[8.01,1.79],[8.19,1.89],[8.29,1.79],[8.36,1.74],[8.48,1.87],[8.55,1.89],[8.62,1.89],
        [8.68,1.74],[8.75,1.87],[8.93,1.62],[9.24,1.92],[9.46,1.59],[9.59,1.89],[9.76,1.69],
        [6.13,1.62],[6.15,1.49],[6.04,1.17],[6.11,1.02],[6.20,1.29],[6.38,1.39],[6.45,1.62],[6.50,1.59],[6.47,1.34],[6.42,1.12],
        [6.57,1.52],[6.61,1.17],[6.68,1.09],[6.74,1.49],[6.79,1.32],[6.88,1.32],[6.88,1.72],[6.92,1.19],[6.98,1.74],[7.02,1.14],
        [7.12,1.27],[7.18,1.37],[7.31,1.34],[7.39,1.54],[7.45,1.32],[7.54,1.37],[7.62,1.49],[7.68,1.17],[7.76,1.39],[7.82,1.47],
        [7.89,1.22],[7.96,1.32],[8.05,1.57],[8.13,1.29],[8.18,1.04],[8.25,1.12],[8.38,1.37],[8.46,1.34],[8.53,1.49],[8.64,1.42],
        [8.70,1.54],[8.83,1.52],[8.93,1.47],[9.03,1.07],[8.82,1.04],[9.21,1.49],[9.31,1.47],[9.41,1.27],[9.49,1.22],[9.67,1.47],
        [9.83,0.95],[9.94,0.85],[9.13,0.97],[8.90,0.92],[8.57,0.92],[8.65,1.00],
        [6.05,0.92],[6.17,0.77],[6.25,0.65],[6.34,0.80],[6.52,0.62],[6.59,0.92],[6.69,0.77],[6.75,0.75],[6.82,0.60],[6.94,0.95],
        [7.02,0.72],[7.06,0.85],[7.16,0.57],[7.22,0.57],[7.29,0.87],[7.39,0.65],[7.53,0.75],[7.66,0.85],[7.73,0.75],[7.90,0.75],
        [8.05,0.52],[8.11,0.87],[8.31,0.85],[8.39,0.47],[8.51,0.70],[8.60,0.62],[8.69,0.60],[8.80,0.70],[8.88,0.72],[8.98,0.80],
        [9.10,0.67],[9.20,0.62],[9.30,0.72],[9.43,0.67],[9.53,0.75],[9.67,0.62],[9.77,0.52],[9.89,0.70],[6.18,0.32],[6.33,0.32],
        [6.70,0.32],[6.84,0.45],[6.96,0.37],[7.12,0.32],[7.32,0.25],[7.41,0.30],[7.66,0.27],[7.78,0.35],[7.94,0.32],[8.22,0.27],
        [8.37,0.32],[8.57,0.22],[8.85,0.25],[9.15,0.30],[9.29,0.25],[9.67,0.37],
        [6.10,-0.12],[6.31,-0.12],[6.04,-0.37],[6.22,-0.42],[6.10,-0.62],[6.28,-0.52],[6.39,-0.65],[6.54,-0.67],[6.60,-0.95],[6.69,-0.37],
        [6.78,-0.30],[6.84,-0.52],[6.88,-0.82],[6.97,-0.27],[7.07,-0.80],[7.10,-0.62],[7.17,-0.32],[7.24,-0.80],[7.32,-0.17],[7.39,-0.37],
        [7.43,-0.62],[7.50,-0.57],[7.53,-0.82],[7.62,-0.32],[7.68,-0.67],[7.76,-0.50],[7.83,-0.72],[7.91,-0.17],[7.96,-0.50],[8.04,-0.12],
        [8.11,-0.22],[8.19,-0.37],[8.22,-0.90],[8.32,-0.52],[8.38,-0.32],[8.46,-0.42],[8.55,-0.82],[8.62,-0.20],[8.74,-0.62],[8.80,-0.47],
        [8.85,-0.22],[8.93,-0.62],[8.99,-0.92],[9.17,-0.37],[9.25,-0.52],[9.34,-0.72],[9.43,-0.97],[9.62,-0.92],[9.69,-0.67],[9.82,-0.97],
        [9.94,-1.02],[9.85,-0.37],
        [6.04,-1.17],[6.14,-1.27],[6.28,-1.17],[6.36,-1.42],[6.18,-1.47],[6.09,-1.52],[6.25,-1.62],[6.47,-1.12],[6.55,-1.22],[6.62,-1.47],
        [6.69,-1.32],[6.76,-1.52],[6.84,-1.12],[6.88,-1.37],[6.94,-1.62],[6.99,-1.77],[7.07,-1.22],[7.12,-1.52],[7.20,-1.52],[7.27,-1.32],
        [7.30,-1.47],[7.40,-1.47],[7.20,-1.84],[7.48,-1.12],[7.53,-1.02],[7.63,-1.27],[7.66,-1.52],[7.76,-1.42],[7.86,-1.47],[7.83,-1.12],
        [7.62,-1.72],[7.39,-1.92],[6.59,-1.82],[6.46,-1.92],[6.78,-1.92],[7.02,-1.97],[6.33,-1.97],[7.94,-1.22],[8.11,-1.24],[8.19,-1.17],
        [8.22,-1.42],[8.55,-1.02],[8.62,-1.22],[8.73,-1.27],[8.85,-1.12],[9.01,-1.47],[9.13,-1.42],[9.34,-1.32],[9.39,-1.47],[9.57,-1.52],
        [9.59,-1.32],[9.71,-1.47],[9.82,-1.47],[9.87,-1.07],[9.97,-1.12],[8.80,-1.67],[9.01,-1.72],[9.16,-1.67],[9.59,-1.77],[9.77,-2.01],
        [8.85,-1.97],[9.08,-1.94],[8.57,-2.01],
        [6.20,-2.16],[6.25,-2.31],[6.41,-2.21],[6.55,-2.14],[6.68,-2.24],[6.82,-2.41],[6.97,-2.21],[7.12,-2.01],[7.35,-2.06],[7.69,-2.11],
        [7.89,-2.31],[8.80,-2.21],[8.88,-2.41],[9.24,-2.36],[9.52,-2.14],[9.77,-2.26],
        [10.08,-0.40],[10.22,-0.50],[10.15,-0.57],[10.24,-0.67],[10.34,-0.65],[10.08,-0.77],[10.21,-0.77],[10.30,-0.75],[10.37,-0.85],[10.42,-1.00],
        [10.46,-0.85],[10.54,-0.92],[10.52,-0.67],[10.58,-0.60],[10.65,-0.75],[10.72,-0.82],[10.75,-0.57],[10.78,-0.87],[10.85,-0.45],[10.87,-0.77],
        [10.92,-0.92],[11.00,-0.67],[11.10,-0.60],[11.14,-0.57],[11.18,-0.67],[11.27,-0.52],[11.30,-0.40],[11.34,-0.67],[11.38,-0.85],[11.46,-0.35],
        [11.45,-0.77],[11.50,-0.67],[11.55,-0.52],[11.63,-0.65],[11.66,-0.80],[11.69,-0.82],[11.72,-0.25],[11.78,-0.27],[11.87,-0.25],[11.84,-0.45],
        [11.87,-0.60],[11.88,-0.87],[10.11,-0.95],[10.14,-1.05],[10.26,-0.92],[10.30,-1.02],[10.38,-1.10],[10.45,-1.20],[10.51,-1.27],[10.41,-1.25],
        [10.56,-1.02],[10.63,-0.97],[10.61,-1.07],[10.65,-1.17],[10.74,-1.02],[10.80,-1.12],[10.83,-1.20],[10.90,-1.17],[10.96,-1.27],[11.07,-1.07],
        [11.16,-1.17],[11.23,-1.02],[11.27,-1.20],[11.36,-1.02],[11.43,-1.07],[11.51,-1.10],[11.54,-0.97],[11.68,-1.17],[10.03,-1.17],[10.03,-1.47],
        [10.13,-1.32],[10.18,-1.42],[10.30,-1.45],[10.35,-1.42],[10.43,-1.47],[10.48,-1.55],[10.56,-1.37],[10.65,-1.65],[10.70,-1.47],[10.77,-1.37],
        [10.85,-1.47],[10.88,-1.52],[11.01,-1.52],[10.07,-1.75],[10.13,-1.82],[10.22,-1.92],[10.30,-1.80],[10.38,-1.82],[10.47,-1.87],[10.55,-1.80],
        [10.60,-1.65],[10.67,-1.75],[10.93,-1.85],[11.14,-1.92],[11.28,-1.67],[11.41,-1.67],[11.45,-1.65],[11.55,-1.67],[11.35,-1.82],[11.91,-1.67],
        [11.87,-1.20],[11.70,-1.30],[11.76,-1.27],[10.22,-2.20],[10.51,-2.05],[10.63,-2.07],[10.73,-2.32],[10.98,-2.05],[11.27,-2.17],[11.58,-2.17],
        [11.80,-2.15],[11.54,-2.00],[12.41,-2.25],[12.66,-2.02],
        [12.05,-0.12],[12.08,-0.42],[12.12,-0.57],[12.21,-0.67],[12.30,-0.70],[12.34,-0.77],[12.41,-0.82],[12.52,-0.80],[12.51,-0.95],[12.63,-0.40],
        [12.68,-0.62],[12.72,-0.82],[12.77,-0.97],[12.84,-1.00],[12.92,-0.62],[12.98,-0.80],[12.05,-1.10],[12.15,-1.12],[12.13,-1.40],[12.62,-1.35],
        [12.92,-1.17],[12.77,-0.17],[12.92,-0.10],[12.55,-0.10],[12.42,-0.10],[12.31,-0.10],[12.25,-0.25],[12.21,-0.07],
        [10.33,0.95],[10.40,0.79],[10.21,0.35],[10.45,1.25],[10.53,1.20],[10.96,0.27],[10.92,0.45],[11.07,0.35],[11.20,0.45],[11.20,0.27],
        [11.30,0.62],[11.52,0.52],[11.57,0.72],[11.64,0.32],[11.70,0.15],[11.72,0.47],[11.75,1.12],[11.81,1.45],[11.87,0.67],[11.90,1.35],
        [12.05,1.32],[12.12,1.25],[12.21,1.17],[12.26,0.87],[12.30,1.45],[12.44,0.87],[12.47,0.72],[12.57,1.05],[12.66,1.20],[12.72,1.30],
        [12.76,0.25],[12.96,0.32],[12.47,1.47],[12.31,1.45],[11.81,0.92],[11.74,0.87],[11.54,0.97],[11.57,0.30],[11.38,0.30]
      ];

      // raw deviation read from a close-up of the cup 4-6 region: [cup, %]
      var devLeft = [
        [4.15,1.84],[4.38,1.95],[4.24,1.44],[4.34,1.50],[4.09,1.17],[4.29,1.09],[4.38,1.24],[4.46,1.27],[4.24,0.93],[4.53,1.10],
        [4.58,1.59],[4.57,0.90],[4.56,0.76],[4.58,0.69],[4.69,1.16],[4.76,1.51],[4.83,1.53],[4.87,1.69],[4.88,1.37],[4.88,1.12],
        [4.88,0.91],[4.85,0.75],[4.79,0.83],[4.75,0.68],[4.81,0.48],[4.97,1.99],[5.06,1.99],[5.02,1.36],[5.08,1.15],[5.21,1.03],
        [5.21,1.64],[5.24,1.43],[5.26,1.89],[5.29,1.80],[5.39,1.88],[5.39,1.37],[5.43,1.30],[5.49,1.15],[5.46,2.09],[5.50,1.85],
        [5.55,1.75],[5.59,1.63],[5.60,1.45],[5.64,1.30],[5.65,2.00],[5.68,1.43],[5.71,1.18],[5.73,1.60],[5.78,1.53],[5.83,1.15],
        [5.85,1.78],[5.90,1.05],[5.92,1.35],[5.93,1.28],[5.97,0.95],[5.99,1.08],[6.04,1.18],[5.54,1.00],[5.53,0.77],[5.60,0.64],
        [5.63,0.82],[5.69,0.70],[5.74,0.84],[5.86,0.85],[5.94,0.68],[5.97,0.35],[5.92,0.35],[5.99,0.70],[5.80,0.45],[5.78,0.28],
        [5.66,0.25],[5.56,0.45],[5.30,0.34],[4.12,0.49],[4.13,0.40],[4.13,0.14],[4.31,0.24],[4.44,0.61],[4.53,0.37],[4.63,0.32],
        [4.75,0.18],[4.88,0.53],[4.84,0.34],[5.03,0.62],[5.11,0.38],[5.12,0.14],[5.19,0.10],
        [4.17,-0.10],[4.28,-0.08],[4.18,-0.28],[4.05,-0.44],[4.12,-0.47],[4.30,-0.47],[4.32,-0.39],[4.19,-0.99],[4.46,-0.88],[4.36,-1.29],
        [4.30,-1.61],[4.49,-1.99],[4.59,-0.62],[4.62,-0.26],[4.64,-0.43],[4.67,-0.40],[4.70,-0.58],[4.74,-0.75],[4.77,-0.69],[4.73,-0.15],
        [4.78,-0.06],[4.87,-0.06],[4.94,-0.08],[4.97,-0.24],[5.00,-0.19],[5.05,-0.30],[5.15,-0.33],[4.88,-0.36],[5.04,-0.53],[5.08,-0.49],
        [5.15,-0.50],[5.12,-0.65],[5.12,-0.86],[5.10,-1.05],[5.19,-1.09],[5.15,-1.31],[5.11,-1.10],[5.26,-0.04],[5.29,0.03],[5.25,-0.33],
        [5.29,-0.33],[5.33,-0.33],[5.33,-0.22],[5.37,-0.03],[5.39,0.03],[5.35,-0.72],[5.37,-0.85],[5.41,-0.94],[5.39,-0.95],[5.43,-1.10],
        [5.43,-1.25],[5.47,-0.58],[5.49,-0.72],[5.44,-0.74],[5.50,-0.45],[5.56,-0.38],[5.53,-1.20],[5.52,-1.38],[5.50,-1.47],[5.61,-1.10],
        [5.63,-0.69],[5.66,-0.65],[5.66,-0.78],[5.64,-0.83],[5.67,-0.50],[5.67,-0.33],[5.66,-0.14],[5.70,0.04],[5.75,-0.27],[5.78,-0.23],
        [5.75,-0.60],[5.76,-0.73],[5.75,-0.80],[5.82,-0.74],[5.87,-0.06],[5.88,-0.25],[5.91,-0.45],[5.93,-0.68],[6.00,-0.60],[5.99,-0.38],
        [5.88,-1.02],[5.99,-1.10],[5.92,-1.32],[5.96,-1.37],[5.88,-1.48],[5.72,-1.35],[5.66,-1.48],[5.55,-1.68],[5.59,-1.70],[5.64,-1.79],
        [5.77,-1.68],[5.82,-1.73],[5.90,-1.74],[5.92,-1.90],[5.90,-2.09],[5.97,-2.08],[5.78,-2.17],[5.61,-2.15],[5.31,-2.22],[5.09,-2.18],
        [5.05,-1.86],[4.91,-1.73],[4.93,-1.57],[4.95,-1.43],[4.92,-1.29],[5.03,-1.52],[4.78,-1.68],[4.76,-1.19],[4.80,-1.23],[4.68,-1.73],
        [4.58,-1.64],[4.61,-1.37],[4.64,-1.24],[4.57,-2.23],[4.91,-2.25]
      ];

      var font = 'Liberation Sans, Arial, sans-serif';
      var navy = '#000096';
      var rawBlue = '#3C7FD3';
      var devRed = '#C55A55';
      var devDark = '#652421';

      var chart = echarts.init(document.getElementById('chart'), null, {renderer: 'canvas'});

      // one legend block per series, so each icon keeps its own marker size
      function legendAt(name, left, h) {
        return {
          data: [name],
          left: left,
          top: 108,
          padding: 0,
          itemWidth: 112,
          itemHeight: h,
          itemGap: 0,
          selectedMode: false,
          textStyle: {fontFamily: font, fontSize: 46, color: '#000'}
        };
      }

      var option = {
        animation: false,
        backgroundColor: '#fff',
        textStyle: {fontFamily: font},
        legend: [
          legendAt(seriesNames[0], 594, 9),
          legendAt(seriesNames[1], 931, 28),
          legendAt(seriesNames[2], 1341, 9),
          legendAt(seriesNames[3], 1841, 32)
        ],
        grid: {left: 220, right: 206, top: 214, bottom: 191, containLabel: false, outerBoundsMode: 'none'},
        xAxis: {
          type: 'value',
          min: 2, max: 18, interval: 2,
          name: 'Wind Speed Cup Anemometer [m/s]',
          nameLocation: 'middle',
          nameGap: 93,
          nameTextStyle: {fontFamily: font, fontSize: 46, fontWeight: 'bold', color: '#000'},
          axisLine: {onZero: false, lineStyle: {color: '#000', width: 3}},
          axisTick: {inside: false, length: 11, lineStyle: {color: '#000', width: 3}},
          axisLabel: {fontFamily: font, fontSize: 40, color: '#000', margin: 34},
          splitLine: {show: true, lineStyle: {color: '#d9d9d9', width: 2, type: [12, 7]}}
        },
        yAxis: [{
          type: 'value',
          min: 0, max: 20, interval: 2,
          position: 'left',
          name: 'Wind Speed RSD [m/s]',
          nameLocation: 'middle',
          nameGap: 95,
          nameTextStyle: {fontFamily: font, fontSize: 46, fontWeight: 'bold', color: '#000'},
          axisLine: {show: true, onZero: false, lineStyle: {color: '#000', width: 3}},
          axisTick: {show: true, inside: false, length: 11, lineStyle: {color: '#000', width: 3}},
          axisLabel: {fontFamily: font, fontSize: 40, color: '#000', margin: 36},
          splitLine: {show: true, lineStyle: {color: '#bfbfbf', width: 3, type: [9, 5]}}
        }, {
          type: 'value',
          min: -10, max: 10, interval: 2,
          position: 'right',
          name: 'Deviation [%]',
          nameLocation: 'middle',
          nameGap: 147,
          nameTextStyle: {fontFamily: font, fontSize: 46, fontWeight: 'bold', color: '#000'},
          axisLine: {show: true, onZero: false, lineStyle: {color: '#000', width: 3}},
          axisTick: {show: true, inside: false, length: 11, lineStyle: {color: '#000', width: 3}},
          axisLabel: {fontFamily: font, fontSize: 40, color: '#000', margin: 38, formatter: '{value}%'},
          splitLine: {show: false}
        }],
        graphic: [{
          type: 'rect',
          silent: true,
          z: -10,
          shape: {x: 27, y: 31, width: 2900, height: 1800},
          style: {fill: 'none', stroke: '#8a8a8a', lineWidth: 3}
        }, {
          type: 'group',
          z: 100,
          children: [{
            type: 'rect',
            shape: {x: 1693, y: 327, width: 453, height: 121},
            style: {fill: '#fff', stroke: '#000', lineWidth: 3}
          }, {
            type: 'text',
            x: 1919, y: 363,
            style: {text: 'y = 1.0095x - 0.0637', font: '46px ' + font, fill: '#000', align: 'center', verticalAlign: 'middle'}
          }, {
            type: 'text',
            x: 1919, y: 415,
            style: {text: 'R\u00b2 = 0.9999', font: '46px ' + font, fill: '#000', align: 'center', verticalAlign: 'middle'}
          }]
        }],
        series: [{
          name: seriesNames[0],
          type: 'scatter',
          yAxisIndex: 0,
          symbol: 'circle',
          symbolSize: 10,
          itemStyle: {color: rawBlue, opacity: 1},
          data: rawData.concat(rawBand)
        }, {
          name: seriesNames[1],
          type: 'scatter',
          yAxisIndex: 0,
          symbol: 'circle',
          symbolSize: 30,
          itemStyle: {color: navy, opacity: 1},
          data: binCup.map(function (c, i) { return [c, binRsd[i]]; })
        }, {
          name: 'Linear fit',
          type: 'line',
          yAxisIndex: 0,
          silent: true,
          symbol: 'none',
          lineStyle: {color: '#000', width: 3},
          data: trendLine
        }, {
          name: seriesNames[2],
          type: 'scatter',
          yAxisIndex: 1,
          symbol: 'circle',
          symbolSize: 10,
          itemStyle: {color: devRed, opacity: 1},
          data: devRaw.concat(devDense, devLeft)
        }, {
          name: seriesNames[3],
          type: 'line',
          yAxisIndex: 1,
          symbol: 'circle',
          symbolSize: 29,
          showAllSymbol: true,
          itemStyle: {color: devDark, opacity: 1},
          lineStyle: {color: devDark, width: 5, type: [14, 8]},
          data: binCup.map(function (c, i) { return [c, binDev[i]]; })
        }]
      };

      chart.setOption(option);
    </script>
  </body>
</html>
